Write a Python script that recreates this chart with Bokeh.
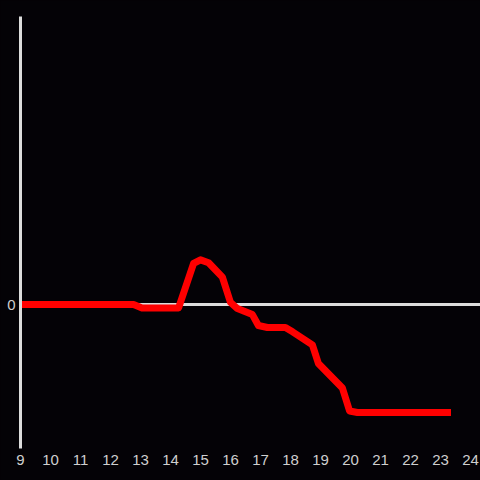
from bokeh.plotting import figure
from bokeh.models import FixedTicker, Span, Range1d
from bokeh.embed import file_html
from bokeh.resources import INLINE

# data: hours vs value
hours = [9.0, 12.77, 13.05, 14.27, 14.77, 15.0, 15.27, 15.73, 16.0, 16.23,
         16.73, 16.93, 17.23, 17.83, 18.07, 18.73, 18.93, 19.73, 19.97, 20.23, 23.35]
values = [0.0, 0.0, -0.024, -0.024, 0.285, 0.31, 0.29, 0.19, 0.014, -0.028,
          -0.07, -0.146, -0.16, -0.16, -0.19, -0.28, -0.41, -0.58, -0.74, -0.75, -0.75]
x_ticks = list(range(9, 25))
y_ticks = [0]

BG = "#040206"
AX = "#dcdcdc"
LBL = "#cfcfcf"

p = figure(width=480, height=480, output_backend="svg", toolbar_location=None,
           x_range=Range1d(9, 9 + 460 / 30), y_range=Range1d(-1, 2),
           min_border_left=20, min_border_right=0, min_border_top=16, min_border_bottom=32)
p.styles = {"background-color": BG}
p.background_fill_color = BG
p.border_fill_color = BG
p.outline_line_color = None
p.grid.visible = False

p.xaxis.ticker = FixedTicker(ticks=x_ticks)
p.xaxis.axis_line_color = None
p.xaxis.major_tick_line_color = None
p.xaxis.minor_tick_line_color = None
p.xaxis.major_tick_out = 0
p.xaxis.major_label_standoff = 6
p.xaxis.major_label_text_color = LBL
p.xaxis.major_label_text_font = "Liberation Sans"
p.xaxis.major_label_text_font_size = "15px"

p.yaxis.ticker = FixedTicker(ticks=y_ticks)
p.yaxis.axis_line_color = AX
p.yaxis.axis_line_width = 3
p.yaxis.major_tick_line_color = None
p.yaxis.minor_tick_line_color = None
p.yaxis.major_tick_out = 0
p.yaxis.major_label_standoff = 5
p.yaxis.major_label_text_color = LBL
p.yaxis.major_label_text_font = "Liberation Sans"
p.yaxis.major_label_text_font_size = "15px"

p.add_layout(Span(location=0, dimension="width", line_color=AX, line_width=3, level="underlay"))

p.line(hours, values, line_color="#ff0000", line_width=7, line_join="round")

open("out.html", "w").write(file_html(p, INLINE))
